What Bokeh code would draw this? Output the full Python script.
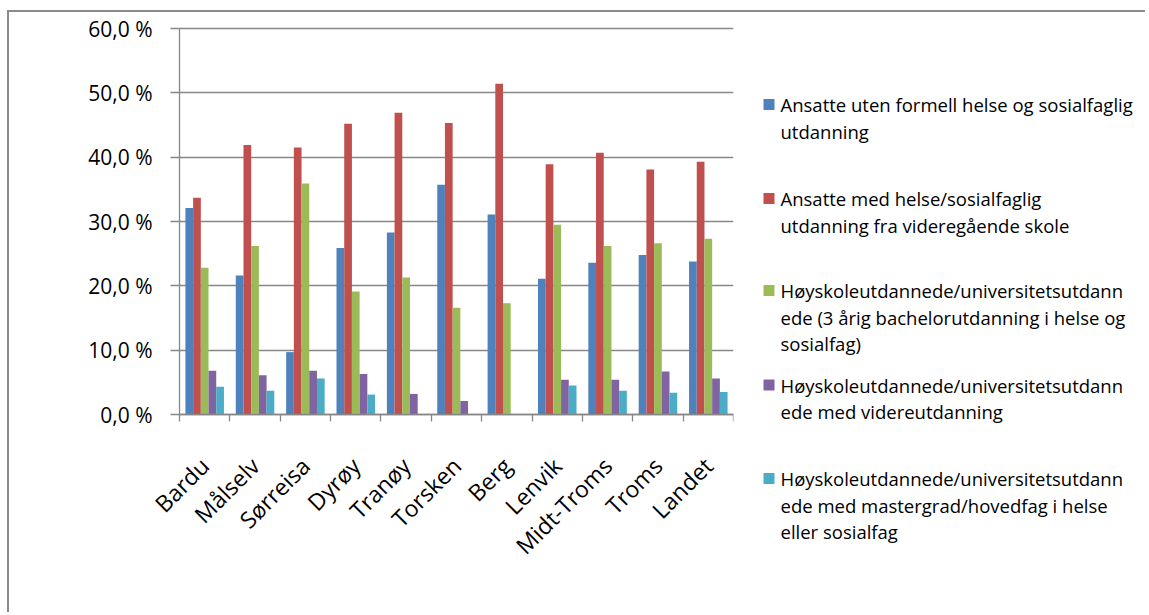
import math
from bokeh.plotting import figure
from bokeh.layouts import row
from bokeh.models import FixedTicker, Range1d, CustomJSTickFormatter
from bokeh.core.properties import value
from bokeh.embed import file_html
from bokeh.resources import INLINE

# ---------------- data ----------------
categories = ["Bardu", "Målselv", "Sørreisa", "Dyrøy", "Tranøy", "Torsken",
              "Berg", "Lenvik", "Midt-Troms", "Troms", "Landet"]

uten_formell = [32.1, 21.6, 9.7, 25.9, 28.3, 35.7, 31.1, 21.1, 23.6, 24.8, 23.8]
vgs_utdanning = [33.7, 41.9, 41.5, 45.2, 46.9, 45.3, 51.4, 38.9, 40.7, 38.1, 39.3]
bachelor = [22.8, 26.2, 35.9, 19.1, 21.3, 16.6, 17.3, 29.5, 26.2, 26.6, 27.3]
videreutdanning = [6.8, 6.1, 6.8, 6.3, 3.2, 2.1, 0.0, 5.4, 5.4, 6.7, 5.6]
mastergrad = [4.3, 3.7, 5.6, 3.1, 0.0, 0.0, 0.0, 4.5, 3.7, 3.4, 3.5]

series_values = [uten_formell, vgs_utdanning, bachelor, videreutdanning, mastergrad]

legend_lines = [
    ["Ansatte uten formell helse og sosialfaglig", "utdanning"],
    ["Ansatte med helse/sosialfaglig", "utdanning fra videregående skole"],
    ["Høyskoleutdannede/universitetsutdann",
     "ede (3 årig bachelorutdanning i helse og", "sosialfag)"],
    ["Høyskoleutdannede/universitetsutdann", "ede med videreutdanning"],
    ["Høyskoleutdannede/universitetsutdann",
     "ede med mastergrad/hovedfag i helse", "eller sosialfag"],
]

colors = ["#4F81BD", "#C0504D", "#9BBB59", "#8064A2", "#4BACC6"]

y_ticks = [0, 10, 20, 30, 40, 50, 60]
y_tick_labels = ["0,0 %", "10,0 %", "20,0 %", "30,0 %", "40,0 %", "50,0 %", "60,0 %"]

# ---------------- layout constants ----------------
FONT = "Open Sans"
GRAY = "#878787"
n = len(categories)
bar_w = 0.153
FIG_H = 600
MAIN_W = 731
TOP, BOTTOM = 2, 4              # borders above / below the (tall) frame
LEFT, RIGHT = 11, 7             # borders left / right of the (wide) frame
FRAME_H = FIG_H - TOP - BOTTOM  # 594
FRAME_W = MAIN_W - LEFT - RIGHT # 713
PLOT_H, PLOT_W = 386, 554       # pixel size of the actual plotting area
PAD_ABOVE = 14                  # px of frame above the 60 % line
Y_TOP = 60
px_per_unit = PLOT_H / Y_TOP
y_max = Y_TOP + PAD_ABOVE / px_per_unit
y_min = -(FRAME_H - PLOT_H - PAD_ABOVE) / px_per_unit
x_min = -n * (FRAME_W - PLOT_W) / PLOT_W
LEG_W = 405
legend_first_line_y = [90, 184, 276, 370.5, 464]   # px from top of frame
legend_line_step = 26.5
legend_box_cx = 28.5
legend_text_x = 40

# ---------------- main chart ----------------
p = figure(width=MAIN_W, height=FIG_H,
           x_range=Range1d(x_min, n), y_range=Range1d(y_min, y_max),
           output_backend="svg", toolbar_location=None,
           min_border_left=LEFT, min_border_right=RIGHT,
           min_border_top=TOP, min_border_bottom=BOTTOM)

p.outline_line_color = None
p.background_fill_color = "white"
p.border_fill_color = "white"

for j, vals in enumerate(series_values):
    xs = [i + 0.5 + (j - 2) * bar_w for i in range(n)]
    p.vbar(x=xs, top=vals, bottom=0, width=bar_w,
           fill_color=colors[j], line_color=None)

# x axis at value 0: labels at category centres, tick marks at boundaries
p.xaxis.fixed_location = 0
p.xaxis.bounds = (0, n)
p.xaxis.ticker = FixedTicker(ticks=[i + 0.5 for i in range(n)],
                             minor_ticks=list(range(n + 1)))
p.xaxis.formatter = CustomJSTickFormatter(
    args=dict(cats=categories),
    code="const k = Math.floor(tick); return cats[k] !== undefined ? cats[k] : '';")
p.xaxis.major_tick_line_color = None
p.xaxis.minor_tick_line_color = GRAY
p.xaxis.minor_tick_line_width = 1.3
p.xaxis.minor_tick_out = 7
p.xaxis.minor_tick_in = 0
p.xaxis.axis_line_color = GRAY
p.xaxis.axis_line_width = 1.3
p.xaxis.major_label_orientation = math.pi / 4
p.xaxis.major_label_standoff = 40
p.xaxis.major_label_text_font = FONT
p.xaxis.major_label_text_font_size = "23px"
p.xaxis.major_label_text_color = "black"
p.xgrid.visible = False

# y axis at category position 0
p.yaxis.fixed_location = 0
p.yaxis.bounds = (0, Y_TOP)
p.yaxis.ticker = FixedTicker(ticks=y_ticks)
p.yaxis.formatter = CustomJSTickFormatter(
    args=dict(vals=y_ticks, labs=y_tick_labels),
    code="const k = vals.indexOf(Math.round(tick)); return k >= 0 ? labs[k] : '';")
p.yaxis.axis_line_color = GRAY
p.yaxis.axis_line_width = 1.3
p.yaxis.major_tick_line_color = GRAY
p.yaxis.major_tick_line_width = 1.3
p.yaxis.major_tick_out = 9
p.yaxis.major_tick_in = 0
p.yaxis.minor_tick_line_color = None
p.yaxis.major_label_standoff = 18
p.yaxis.major_label_text_font = FONT
p.yaxis.major_label_text_font_size = "21px"
p.yaxis.major_label_text_color = "black"
p.ygrid.grid_line_color = GRAY
p.ygrid.grid_line_width = 1.3
p.ygrid.bounds = (0, Y_TOP)
p.ygrid.cross_bounds = (0, n)

# ---------------- legend panel ----------------
leg = figure(width=LEG_W, height=FIG_H,
             x_range=Range1d(0, LEG_W), y_range=Range1d(FRAME_H, 0),
             output_backend="svg", toolbar_location=None,
             x_axis_type=None, y_axis_type=None,
             min_border_left=0, min_border_right=0,
             min_border_top=TOP, min_border_bottom=BOTTOM)
leg.outline_line_color = None
leg.xgrid.visible = False
leg.ygrid.visible = False
leg.background_fill_color = "white"
leg.border_fill_color = "white"

sq_x, sq_y, sq_c = [], [], []
tx, ty, tt = [], [], []
for j, lines in enumerate(legend_lines):
    y0 = legend_first_line_y[j]
    sq_x.append(legend_box_cx)
    sq_y.append(y0)
    sq_c.append(colors[j])
    for k, line in enumerate(lines):
        tx.append(legend_text_x)
        ty.append(y0 + k * legend_line_step)
        tt.append(line)

leg.rect(x=sq_x, y=sq_y, width=11, height=11, fill_color=sq_c, line_color=None)
leg.text(x=tx, y=ty, text=tt, text_font=value(FONT), text_font_size="18.5px",
         text_color="black", text_baseline="middle", text_align="left")

layout = row(p, leg, styles={"border-left": "2px solid #8a8a8a",
                             "border-top": "2px solid #8a8a8a",
                             "margin-left": "7px", "margin-top": "10px"})

open("out.html", "w").write(file_html(layout, INLINE))
